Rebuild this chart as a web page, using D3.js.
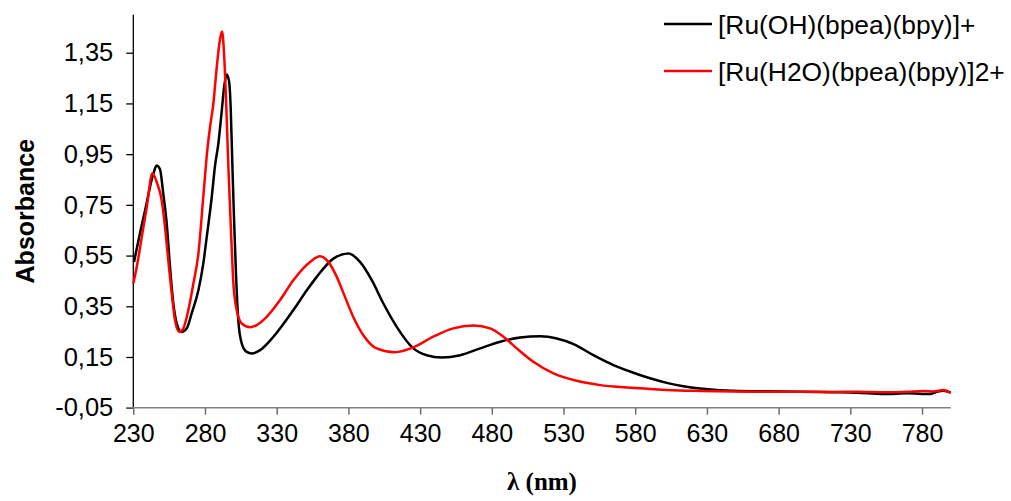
<!DOCTYPE html>
<html>
<head>
<meta charset="utf-8">
<script src="https://cdn.jsdelivr.net/npm/d3@7/dist/d3.min.js"></script>
<style>
  html, body { margin: 0; padding: 0; background: #fff; }
  svg { display: block; }
  text { font-family: Arial, "Liberation Sans", sans-serif; }
</style>
</head>
<body>
<svg id="chart" width="1011" height="501"></svg>
<script>
// UV-vis spectra: wavelength (nm) and absorbance
const seriesNames = ["[Ru(OH)(bpea)(bpy)]+", "[Ru(H2O)(bpea)(bpy)]2+"];
const seriesColors = ["#000000", "#ff0000"];

const ohWavelength = [230.5, 234.6, 238.2, 244, 246.3, 248.6, 250.9, 253.3, 255.6, 257.9, 260.3, 263.8,
  267.3, 270.7, 275.4, 278.8, 281.2, 284.7, 287, 289.3, 291.7, 293.3, 295.1, 296.7, 297.9, 299, 300.2,
  301.6, 303.2, 305.6, 309.1, 312.6, 318.4, 327.7, 341.6, 351, 357.9, 369.5, 380, 388.1, 396.3, 404.4,
  413.7, 425.3, 434.6, 445.1, 458, 471.9, 485.9, 499.7, 513.9, 525.3, 537, 550.8, 564.8, 578.7, 590.4,
  602, 613.6, 625.2, 636.9, 648.5, 671.7, 695, 718.2, 735, 753.1, 770, 785.7, 790, 795, 800];
const ohAbsorbance = [0.525, 0.637, 0.728, 0.873, 0.905, 0.89, 0.794, 0.676, 0.505, 0.362, 0.282, 0.249,
  0.263, 0.322, 0.413, 0.518, 0.623, 0.781, 0.905, 0.991, 1.122, 1.214, 1.264, 1.24, 1.135, 0.925, 0.702,
  0.479, 0.295, 0.204, 0.17, 0.164, 0.177, 0.23, 0.335, 0.413, 0.466, 0.538, 0.558, 0.525, 0.453, 0.361,
  0.269, 0.184, 0.157, 0.148, 0.157, 0.184, 0.21, 0.227, 0.232, 0.223, 0.201, 0.157, 0.118, 0.088, 0.066,
  0.048, 0.035, 0.026, 0.02, 0.017, 0.0145, 0.013, 0.011, 0.009, 0.004, 0.007, 0.004, 0.012, 0.017, 0.01];

const aquaWavelength = [230, 232.4, 235.9, 239.4, 243.3, 246.3, 249.8, 252.1, 254.4, 256.8, 259.1, 262.1,
  264.9, 268.4, 271.9, 275.4, 278.8, 281.6, 283.5, 285.8, 288.2, 290.5, 291.9, 293.3, 294.7, 296.3, 298,
  299.8, 302.1, 305.6, 311.4, 316.1, 323, 332.3, 341.6, 353.3, 360.2, 366, 371.9, 377.6, 383.4, 390.4,
  399.7, 412.4, 425.3, 439.2, 453.1, 467.1, 478.8, 488.1, 497.4, 509, 523, 539.3, 555.6, 574.2, 590.4,
  602, 625.2, 648, 671.7, 695, 718.2, 735, 753.1, 770, 781, 788, 795, 800];
const aquaAbsorbance = [0.44, 0.505, 0.623, 0.741, 0.875, 0.84, 0.768, 0.663, 0.531, 0.4, 0.295, 0.249,
  0.263, 0.335, 0.44, 0.558, 0.781, 0.965, 1.056, 1.148, 1.293, 1.404, 1.434, 1.345, 1.161, 0.899, 0.663,
  0.44, 0.335, 0.282, 0.267, 0.276, 0.308, 0.374, 0.453, 0.525, 0.547, 0.525, 0.466, 0.387, 0.308, 0.236,
  0.184, 0.169, 0.188, 0.23, 0.263, 0.274, 0.263, 0.23, 0.184, 0.131, 0.085, 0.056, 0.039, 0.03, 0.024,
  0.02, 0.016, 0.014, 0.013, 0.013, 0.012, 0.013, 0.011, 0.013, 0.016, 0.014, 0.02, 0.008];

const xTicks = [230, 280, 330, 380, 430, 480, 530, 580, 630, 680, 730, 780];
const yTicks = [-0.05, 0.15, 0.35, 0.55, 0.75, 0.95, 1.15, 1.35];
const xTitle = "λ (nm)";
const yTitle = "Absorbance";

const svg = d3.select("#chart");
const plot = { left: 133.3, right: 950.7, top: 14.7, bottom: 407.7 };

const x = d3.scaleLinear().domain([230, 800]).range([plot.left, plot.right]);
const y = d3.scaleLinear().domain([-0.05, 1.5]).range([plot.bottom, plot.top]);

const locale = d3.formatLocale({ decimal: ",", thousands: ".", grouping: [3], currency: ["", ""], minus: "-" });
const fmt = locale.format(".2f");

// y axis
const yAxis = svg.append("g")
  .attr("transform", `translate(${plot.left},0)`)
  .call(d3.axisLeft(y).tickValues(yTicks).tickFormat(fmt).tickSize(7).tickPadding(13).tickSizeOuter(0));
yAxis.select(".domain").attr("stroke", "#000").attr("stroke-width", 1.3)
  .attr("d", `M0,${plot.top}V${plot.bottom}`);
yAxis.selectAll(".tick line").attr("stroke", "#000").attr("stroke-width", 1.3);
yAxis.selectAll(".tick text").attr("font-size", 25.5).attr("fill", "#000")
  .attr("font-family", "Arial, 'Liberation Sans', sans-serif");

// x axis
const xAxis = svg.append("g")
  .attr("transform", `translate(0,${plot.bottom})`)
  .call(d3.axisBottom(x).tickValues(xTicks).tickFormat(d3.format("d")).tickSize(7).tickPadding(10).tickSizeOuter(0));
xAxis.select(".domain").attr("stroke", "#808080").attr("stroke-width", 1.5)
  .attr("d", `M${plot.left - 7},0H${plot.right}`);
xAxis.selectAll(".tick line").attr("stroke", "#707070").attr("stroke-width", 1.5);
xAxis.selectAll(".tick text").attr("font-size", 25).attr("fill", "#000")
  .attr("font-family", "Arial, 'Liberation Sans', sans-serif");

// spectra
const line = d3.line()
  .x(d => x(d[0]))
  .y(d => y(d[1]))
  .curve(d3.curveMonotoneX);

const series = [
  d3.zip(ohWavelength, ohAbsorbance),
  d3.zip(aquaWavelength, aquaAbsorbance)
];

svg.append("g").selectAll("path")
  .data(series)
  .join("path")
  .attr("d", line)
  .attr("fill", "none")
  .attr("stroke", (d, i) => seriesColors[i])
  .attr("stroke-width", 2.5)
  .attr("stroke-linejoin", "round");

// axis titles
svg.append("text")
  .attr("transform", `translate(34,${(plot.top + plot.bottom) / 2}) rotate(-90)`)
  .attr("text-anchor", "middle")
  .attr("font-size", 25)
  .attr("font-weight", "bold")
  .text(yTitle);

svg.append("text")
  .attr("x", (plot.left + plot.right) / 2)
  .attr("y", 490)
  .attr("text-anchor", "middle")
  .attr("font-size", 25)
  .attr("font-weight", "bold")
  .style("font-family", "'Times New Roman', 'Liberation Serif', serif")
  .text(xTitle);

// legend
const legend = svg.append("g").selectAll("g")
  .data(seriesNames)
  .join("g")
  .attr("transform", (d, i) => `translate(664,${24 + i * 47})`);
legend.append("line")
  .attr("x1", 0).attr("x2", 48)
  .attr("stroke", (d, i) => seriesColors[i])
  .attr("stroke-width", 2.5);
legend.append("text")
  .attr("x", 54)
  .attr("y", 9.5)
  .attr("font-size", 26.4)
  .attr("fill", "#000")
  .text(d => d);
</script>
</body>
</html>
